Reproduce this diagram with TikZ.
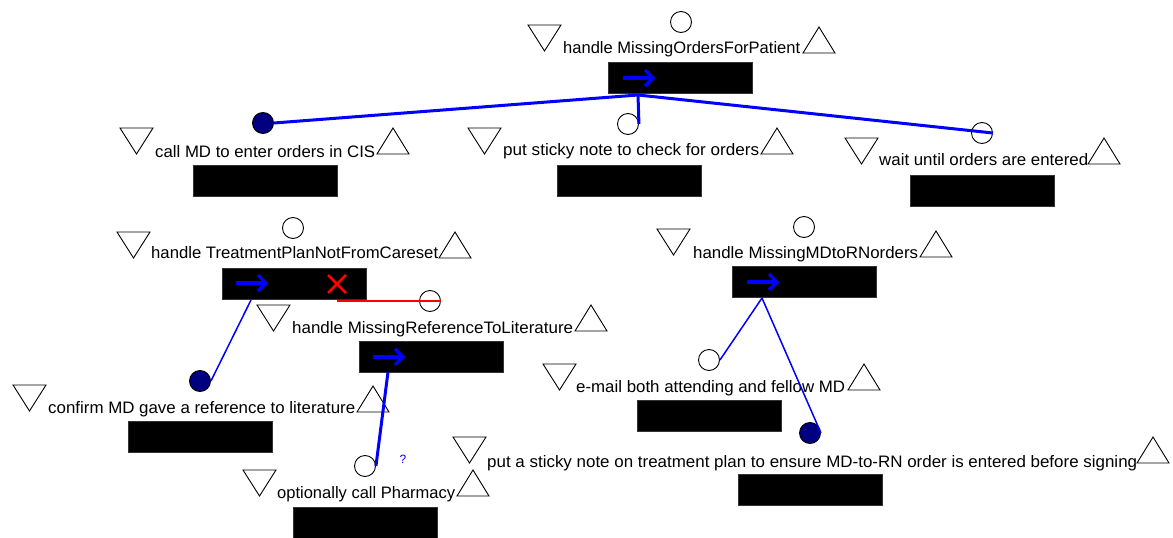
\documentclass[tikz,border=0pt]{standalone}
\usepackage{fontspec}
\setmainfont{Liberation Sans}
\definecolor{linkblue}{RGB}{0,0,255}
\definecolor{donenavy}{RGB}{0,0,128}
\definecolor{cutred}{RGB}{255,0,0}
% set a caption to a given width (in pt) by stretching it horizontally
\newlength\captionwd
\newcommand\fitto[2]{\settowidth\captionwd{#2}\scalebox{\fpeval{#1/\captionwd}}[1]{#2}}
\begin{document}
\begin{tikzpicture}[x=1pt,y=-1pt,
  lbl/.style={anchor=base west, inner sep=0pt, font=\fontsize{16.6}{18}\selectfont},
  blackbox/.style={anchor=north west, fill=black, draw=black!80, line width=0.8pt,
    minimum width=144pt, minimum height=31pt, inner sep=0pt},
  opencirc/.style={circle, draw=black, line width=0.9pt, fill=white, minimum size=21pt, inner sep=0pt},
  donecirc/.style={circle, draw=black, line width=0.9pt, fill=donenavy, minimum size=21pt, inner sep=0pt},
  triedge/.style={draw=black, line width=0.9pt, fill=white, line join=miter},
  qmark/.style={inner sep=0pt, text=linkblue, font=\fontsize{12}{14}\selectfont},
  link/.style={draw=linkblue, line width=1.5pt},
  thicklink/.style={draw=linkblue, line width=3pt},
  cutlink/.style={draw=cutred, line width=2.5pt},
  downtri/.pic={\path[triedge] (0,0) -- (33,0) -- (16.5,26) -- cycle;},
  uptri/.pic={\path[triedge] (0,26) -- (32,26) -- (16,0) -- cycle;},
  flowarrow/.pic={\draw[linkblue, line width=3.5pt] (0,0) -- (28,0);
    \draw[linkblue, line width=3.5pt, line join=miter] (22,-8) -- (30,0) -- (22,8);},
  cutmark/.pic={\draw[cutred, line width=2.5pt] (-9,-9) -- (9,9) (-9,9) -- (9,-9);},
]
\fill[white] (0,0) rectangle (1173,538);
\useasboundingbox (0,0) rectangle (1173,538);

% handle MissingOrdersForPatient
\node[opencirc] (c1) at (681,22) {};
\pic at (528,25) {downtri};
\node[lbl] (t1) at (563,53) {\fitto{237}{handle MissingOrdersForPatient}};
\pic at (803,27) {uptri};
\node[blackbox] (b1) at (608,62) {};
\pic at (623,78) {flowarrow};
\coordinate (o1) at (638,95);

% call MD to enter orders in CIS
\node[donecirc] (c2) at (263,123) {};
\pic at (120,128) {downtri};
\node[lbl] (t2) at (155,157) {\fitto{220}{call MD to enter orders in CIS}};
\pic at (377,128) {uptri};
\node[blackbox] (b2) at (193,165) {};

% put sticky note to check for orders
\node[opencirc] (c3) at (628,124) {};
\pic at (468,128) {downtri};
\node[lbl] (t3) at (503,155) {\fitto{256}{put sticky note to check for orders}};
\pic at (761,128) {uptri};
\node[blackbox] (b3) at (557,165) {};

% wait until orders are entered
\node[opencirc] (c4) at (982,133) {};
\pic at (845,138) {downtri};
\node[lbl] (t4) at (879,165) {\fitto{209}{wait until orders are entered}};
\pic at (1088,138) {uptri};
\node[blackbox] (b4) at (910,175) {};

% handle TreatmentPlanNotFromCareset
\node[opencirc] (c5) at (293,228) {};
\pic at (117,232) {downtri};
\node[lbl] (t5) at (151,258) {\fitto{287}{handle TreatmentPlanNotFromCareset}};
\pic at (439,232) {uptri};
\node[blackbox] (b5) at (222,268) {};
\pic at (236,283) {flowarrow};
\pic at (337,284) {cutmark};
\coordinate (o5) at (251,300);
\coordinate (x5) at (337,301);

% handle MissingReferenceToLiterature
\node[opencirc] (c6) at (430,301) {};
\pic at (257,305) {downtri};
\node[lbl] (t6) at (292,333) {\fitto{281}{handle MissingReferenceToLiterature}};
\pic at (575,305) {uptri};
\node[blackbox] (b6) at (359,341) {};
\pic at (373,357) {flowarrow};
\coordinate (o6) at (388,372);

% confirm MD gave a reference to literature
\node[donecirc] (c7) at (200,381) {};
\pic at (13,385) {downtri};
\node[lbl] (t7) at (48,413) {\fitto{307}{confirm MD gave a reference to literature}};
\pic at (357,386) {uptri};
\node[blackbox] (b7) at (128,421) {};

% optionally call Pharmacy
\node[opencirc] (c8) at (365,466) {};
\node[qmark] (q8) at (403,459) {?};
\pic at (243,470) {downtri};
\node[lbl] (t8) at (277,498) {\fitto{178}{optionally call Pharmacy}};
\pic at (457,470) {uptri};
\node[blackbox] (b8) at (293,507) {};

% handle MissingMDtoRNorders
\node[opencirc] (c9) at (804,227) {};
\pic at (657,229) {downtri};
\node[lbl] (t9) at (693,258) {\fitto{225}{handle MissingMDtoRNorders}};
\pic at (920,231) {uptri};
\node[blackbox] (b9) at (732,266) {};
\pic at (747,282) {flowarrow};
\coordinate (o9) at (762,298);

% e-mail both attending and fellow MD
\node[opencirc] (c10) at (709,360) {};
\pic at (543,364) {downtri};
\node[lbl] (t10) at (576,392) {\fitto{269}{e-mail both attending and fellow MD}};
\pic at (848,364) {uptri};
\node[blackbox] (b10) at (637,400) {};

% put a sticky note on treatment plan ...
\node[donecirc] (c11) at (810,433) {};
\pic at (453,437) {downtri};
\node[lbl] (t11) at (487,467) {\fitto{650}{put a sticky note on treatment plan to ensure MD-to-RN order is entered before signing}};
\pic at (1137,437) {uptri};
\node[blackbox] (b11) at (738,474) {};

% connectors
\draw[thicklink] (o1) -- (c2.east);
\draw[thicklink] (o1) -- (c3.east);
\draw[thicklink] (o1) -- (c4.east);
\draw[link] (o5) -- (c7.east);
\draw[cutlink] (x5) -- (c6.east);
\draw[thicklink] (o6) -- (c8.east);
\draw[link] (o9) -- (c10.east);
\draw[link] (o9) -- (c11.east);
\end{tikzpicture}
\end{document}
